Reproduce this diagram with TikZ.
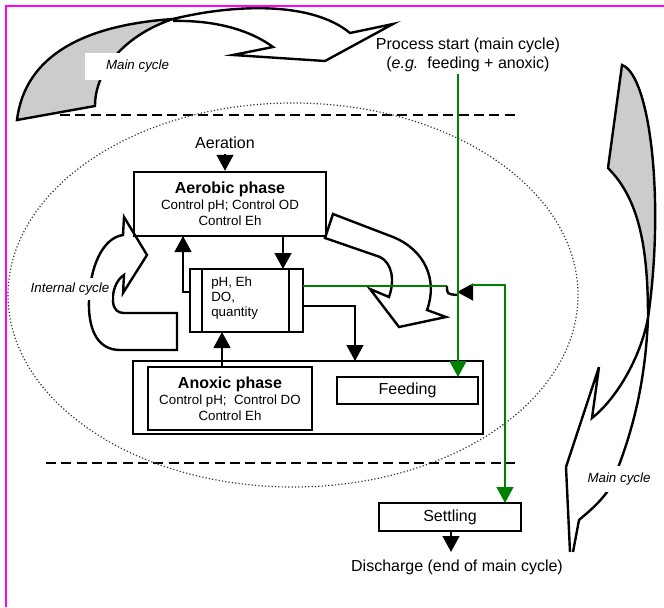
\documentclass[tikz,border=0pt]{standalone}
\usepackage{fontspec}
\setmainfont{Liberation Sans}
\usetikzlibrary{arrows.meta}
\definecolor{flowgreen}{RGB}{0,128,0}
\definecolor{cyclegray}{RGB}{204,204,204}
\definecolor{pagepink}{RGB}{255,0,255}
\newcommand{\txtL}{\fontsize{12}{14}\selectfont}
\newcommand{\txtS}{\fontsize{10}{12}\selectfont}
\tikzset{
  phase/.style={draw, line width=1.8pt, align=center, font=\txtS, inner sep=0pt},
  flow/.style={line width=1.8pt, -{Triangle[length=12pt,width=12.5pt]}},
  gflow/.style={flow, draw=flowgreen},
  gline/.style={line width=1.8pt, draw=flowgreen},
  blockarr/.style={draw, line width=1.8pt, fill=white, line join=miter},
  cyclelbl/.style={fill=white, font=\txtS\itshape, inner sep=0pt},
  sep/.style={line width=1.8pt, dash pattern=on 7.5pt off 4pt}
}
\begin{document}
\begin{tikzpicture}[x=0.75pt, y=-0.75pt]
  \useasboundingbox (0,0) rectangle (664,607);
  \draw[pagepink, line width=1.8pt] (6,607) -- (6,6) -- (664,6);

  % separators
  \draw[sep] (60,115) -- (515,115);
  \draw[sep] (46,463) -- (515,463);
  \draw[line width=0.9pt, dash pattern=on 0.9pt off 1.6pt, black!80] (293,295) ellipse [x radius=213.75pt, y radius=144pt];

  % main cycle (top)
  \filldraw[fill=cyclegray, line width=1.8pt] (17,120) .. controls (25,55) and (85,25) .. (173,19)
    .. controls (125,35) and (95,70) .. (95,106) -- cycle;
  \filldraw[blockarr] (173,19) .. controls (230,5) and (310,0) .. (350,33) -- (393,24) -- (325,61)
    -- (233,55) -- (273,47) .. controls (250,30) and (215,20) .. (173,21);
  \node[cyclelbl, minimum width=78.75pt, minimum height=20.25pt] (topcyc) at (137.5,66.5) {Main cycle};

  % main cycle (right)
  \filldraw[fill=cyclegray, line width=1.8pt] (622,65) .. controls (650,75) and (665,200) .. (648,318)
    .. controls (648,250) and (640,200) .. (608,168) -- cycle;
  \draw[line width=1.8pt] (648,318) .. controls (645,390) and (630,440) .. (610,488)
    .. controls (598,505) and (588,512) .. (579,520) -- (573,552);
  \draw[line width=1.8pt, line join=miter] (648,318) .. controls (640,360) and (615,400) .. (592,418)
    -- (599,367) -- (566,467) -- (570,552);
  \node[cyclelbl, minimum width=61.5pt, minimum height=19.5pt] (rightcyc) at (619,479) {Main cycle};

  % internal cycle
  \filldraw[blockarr] (177,313) -- (177,350) -- (120,350) .. controls (95,350) and (88,325) .. (89,300)
    .. controls (90,268) and (102,238) .. (123,235) -- (124,217) -- (147,255) -- (123,293) -- (124,275)
    .. controls (116,280) and (112,292) .. (113,302) .. controls (114,310) and (118,313) .. (124,313) -- cycle;
  \node[cyclelbl, minimum width=63pt, minimum height=16.5pt] (intcyc) at (70,289) {Internal cycle};

  % phases
  \node[phase, minimum width=144pt, minimum height=48pt] (aerob) at (230,204)
    {{\txtL\bfseries Aerobic phase}\\Control pH; Control OD\\Control Eh};
  \node[font=\txtL] (aer) at (225,143) {Aeration};
  \node[draw, line width=1.8pt, minimum width=84.75pt, minimum height=47.25pt] (mon) at (246.5,300.5) {};
  \draw[line width=1.8pt] ([xshift=9.75pt]mon.north west) -- ([xshift=9.75pt]mon.south west);
  \draw[line width=1.8pt] ([xshift=-11.25pt]mon.north east) -- ([xshift=-11.25pt]mon.south east);
  \node[font=\fontsize{10}{11.25}\selectfont, align=left, anchor=west, inner sep=0pt] (montxt) at (211,298)
    {pH, Eh\\DO,\\quantity};
  \node[phase, minimum width=262.5pt, minimum height=54.75pt] (tank) at (308,397.5) {};
  \node[phase, minimum width=123pt, minimum height=47.25pt] (anox) at (230,398.5)
    {{\txtL\bfseries Anoxic phase}\\Control pH;\ \ Control DO\\Control Eh};
  \node[phase, font=\txtL, minimum width=105.75pt, minimum height=20.25pt] (feed) at (407.5,390.5) {Feeding};
  \node[phase, font=\txtL, minimum width=106.5pt, minimum height=21pt] (settle) at (450,517) {Settling};
  \node[font=\txtL] (disch) at (457,567) {Discharge (end of main cycle)};
  \node[font=\fontsize{12}{14.25}\selectfont, align=center, inner sep=1pt] (start) at (468,55)
    {Process start (main cycle)\\(\textit{e.g.}\ \ feeding + anoxic)};

  % aerobic to anoxic
  \filldraw[blockarr] (333,214) -- (393,237) .. controls (425,250) and (438,280) .. (427,310) -- (446,317)
    -- (399,327) -- (370,289) -- (389,297) .. controls (395,280) and (392,263) .. (380,257) -- (325,238) -- cycle;

  % connectors
  \coordinate (m1) at (283,269);
  \coordinate (m2) at (190,292);
  \coordinate (a2) at (183,236);
  \coordinate (m3) at (222,332);
  \coordinate (m4) at (303,306);
  \coordinate (t1) at (355,361);
  \coordinate (d1) at (451,552);
  \draw[flow] (aer.south) -- (aer.south |- aerob.north);
  \draw[flow] (aerob.south -| m1) -- (m1);
  \draw[flow] (m2) -| (a2);
  \draw[flow] (anox.north -| m3) -- (m3);
  \draw[flow] (m4) -| (t1);
  \draw[flow] (settle.south -| d1) -- (d1);

  % green flow
  \coordinate (f1) at (458,377);
  \coordinate (g1) at (303,286);
  \coordinate (g2) at (447,286);
  \coordinate (hop) at (457,292);
  \coordinate (g3) at (471,285);
  \coordinate (s1) at (505,503);
  \draw[gline] (g1) -- (g2);
  \draw[line width=1.8pt] (g2) .. controls (447,294) .. (457,295);
  \draw[flow] (g3 |- hop) -- (hop);
  \draw[gflow] (g3) -| (s1);
  \draw[gflow] (start.south -| f1) -- (f1);
\end{tikzpicture}
\end{document}
